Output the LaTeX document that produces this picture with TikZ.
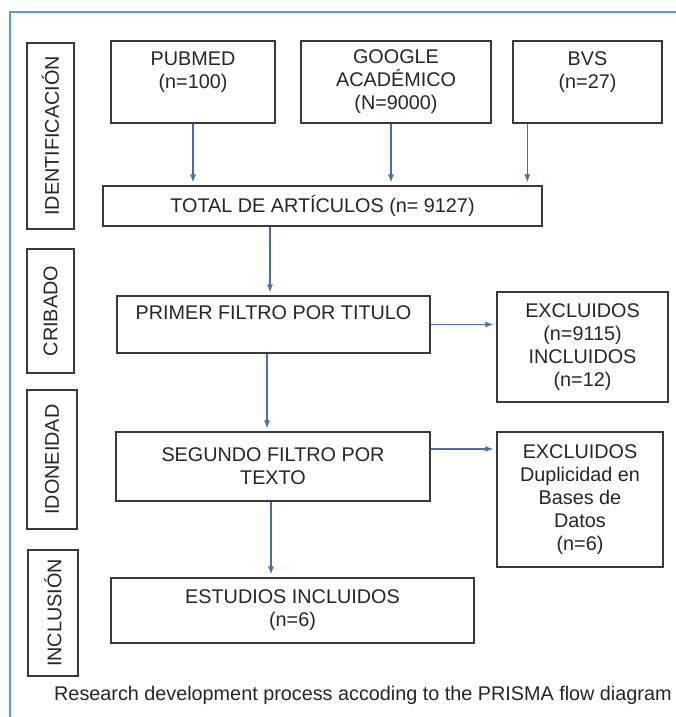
\documentclass[tikz,border=0pt]{standalone}
\usepackage{fontspec}
\setmainfont{Liberation Sans}
\usetikzlibrary{arrows.meta}

\definecolor{framebl}{HTML}{5B9BD5}
\definecolor{arrowbl}{HTML}{4A6FA8}
\definecolor{boxgray}{HTML}{3A3A3A}
\definecolor{textgray}{HTML}{262626}

\tikzstyle{block} = [rectangle, draw=boxgray, line width=1.3pt, text=textgray,
    align=center, inner sep=0pt, font=\fontsize{19.8}{23}\selectfont]
\tikzstyle{phase} = [rectangle, draw=boxgray, line width=1.3pt, text=textgray,
    inner sep=0pt, rotate=90, font=\fontsize{19.8}{23}\selectfont]
\tikzstyle{line} = [draw=arrowbl, line width=1.2pt, shorten >=3pt, -{Latex[length=8pt,width=6pt]}]

\begin{document}
\begin{tikzpicture}[x=1pt, y=-1pt]
    \useasboundingbox (0,0) rectangle (676,717);
    \clip (0,0) rectangle (676,717);
    \draw [framebl, line width=2.5pt] (680,12) -- (10,12) -- (10,720);

    \node [phase, minimum width=186pt, minimum height=47pt] (Ident) at (50.5,136) {IDENTIFICACIÓN};
    \node [phase, minimum width=124pt, minimum height=47pt] (Cribado) at (50.5,311) {CRIBADO};
    \node [phase, minimum width=139pt, minimum height=50pt] (Idoneidad) at (52,459.5) {IDONEIDAD};
    \node [phase, minimum width=126pt, minimum height=50pt] (Inclusion) at (53,613) {INCLUSIÓN};

    \node [block, minimum width=164pt, minimum height=82pt] (Pubmed) at (193,82) {PUBMED\\(n=100)\\\mbox{}};
    \node [block, minimum width=190pt, minimum height=82pt] (Google) at (396,82) {GOOGLE\\ACADÉMICO\\(N=9000)};
    \node [block, minimum width=149pt, minimum height=82pt] (Bvs) at (587.5,82) {BVS\\(n=27)\\\mbox{}};
    \node [block, minimum width=439pt, minimum height=40pt] (Total) at (322.5,206) {TOTAL DE ARTÍCULOS (n= 9127)};
    \node [block, minimum width=313pt, minimum height=57pt] (Primer) at (273.5,324.5) {PRIMER FILTRO POR TITULO\\\mbox{}};
    \node [block, minimum width=171pt, minimum height=110pt] (Excl1) at (582.5,347) {EXCLUIDOS\\(n=9115)\\INCLUIDOS\\(n=12)};
    \node [block, minimum width=314pt, minimum height=69pt] (Segundo) at (273,466.5) {SEGUNDO FILTRO POR\\TEXTO};
    \node [block, minimum width=166pt, minimum height=135pt] (Excl2) at (580,499.5) {EXCLUIDOS\\Duplicidad en\\Bases de\\Datos\\(n=6)};
    \node [block, minimum width=363pt, minimum height=65pt] (Estudios) at (292.5,610.5) {ESTUDIOS INCLUIDOS\\(n=6)};

    \node [anchor=base west, inner sep=0pt, text=textgray, font=\fontsize{19.8}{23}\selectfont] (Caption) at (54,700) {Research development process accoding to the PRISMA flow diagram};

    \path [line] (Pubmed.south) -- (Pubmed.south |- Total.north);
    \path [line] ([xshift=-5pt]Google.south) -- ([xshift=-5pt]Google.south |- Total.north);
    \path [line] ([xshift=15pt]Bvs.south west) -- ([xshift=15pt]Bvs.south west |- Total.north);
    \path [line] ([xshift=-3.5pt]Primer.north |- Total.south) -- ([xshift=-3.5pt]Primer.north);
    \path [line] ([xshift=-6pt]Segundo.north |- Primer.south) -- ([xshift=-6pt]Segundo.north);
    \path [line] ([xshift=-2pt]Segundo.south) -- ([xshift=-2pt]Segundo.south |- Estudios.north);
    \path [line] (Primer.east) -- (Primer.east -| Excl1.west);
    \path [line] ([yshift=17.5pt]Segundo.east) -- ([yshift=17.5pt]Segundo.east -| Excl2.west);
\end{tikzpicture}
\end{document}
